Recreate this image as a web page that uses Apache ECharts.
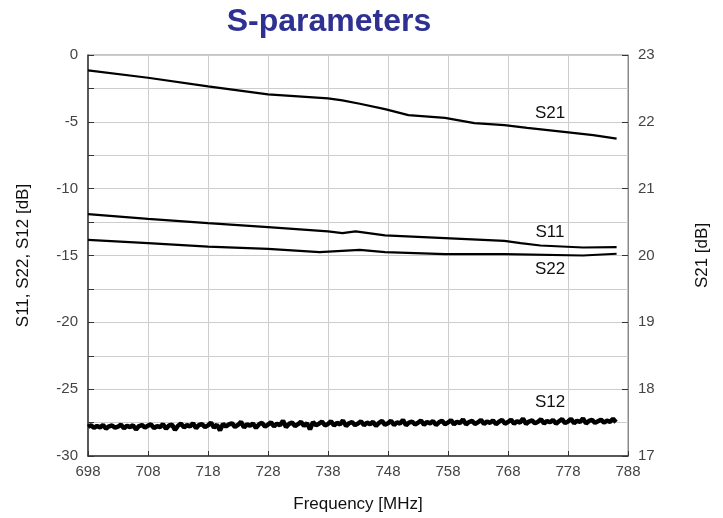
<!DOCTYPE html>
<html>
<head>
<meta charset="utf-8">
<script src="https://cdn.jsdelivr.net/npm/echarts@6/dist/echarts.min.js"></script>
<style>html,body{margin:0;padding:0;background:#fff}#c{width:723px;height:518px}</style>
</head>
<body>
<div id="c"></div>
<script>
// Frequency tick labels (MHz)
const freqTicks = [698, 708, 718, 728, 738, 748, 758, 768, 778, 788];
// S21 (right axis, dB)
const s21Freq = [698, 708, 718, 728, 738, 740.4, 743.3, 747.5, 751.4, 757.5, 762.4, 767.4, 771.2, 777.3, 782.2, 786.1];
const s21Vals = [22.77, 22.66, 22.53, 22.41, 22.35, 22.32, 22.27, 22.19, 22.10, 22.06, 21.98, 21.95, 21.91, 21.85, 21.80, 21.75];
// S11 (left axis, dB)
const s11Freq = [698, 708, 718, 728, 738, 740.4, 742.6, 747.5, 757.5, 767.4, 770.1, 773.4, 780.5, 786.1];
const s11Vals = [-11.91, -12.26, -12.58, -12.88, -13.20, -13.33, -13.20, -13.50, -13.70, -13.90, -14.07, -14.25, -14.40, -14.38];
// S22 (left axis, dB)
const s22Freq = [698, 708, 718, 728, 736.6, 743.3, 747.5, 757.5, 767.4, 780.5, 786.1];
const s22Vals = [-13.83, -14.08, -14.33, -14.50, -14.75, -14.58, -14.75, -14.90, -14.90, -15.00, -14.87];
// S12 (left axis, dB), sampled every 0.5 MHz from 698
const s12Start = 698, s12Step = 0.5;
const s12Vals = [
 -27.82,-27.70,-27.90,-27.75,-27.86,-27.68,-27.95,-27.78,-27.72,-27.88,
 -27.80,-27.66,-27.93,-27.74,-27.84,-27.70,-28.02,-27.76,-27.69,-27.87,
 -27.73,-27.64,-27.90,-27.77,-27.83,-27.62,-27.96,-27.71,-27.66,-28.05,
 -27.74,-27.58,-27.86,-27.69,-27.80,-27.55,-27.92,-27.68,-27.62,-27.84,
 -27.71,-27.50,-27.88,-27.66,-28.08,-27.60,-27.79,-27.64,-27.55,-27.83,
 -27.68,-27.45,-27.86,-27.62,-27.74,-27.57,-27.90,-27.63,-27.52,-27.80,
 -27.65,-27.48,-27.78,-27.58,-27.70,-27.36,-27.84,-27.60,-27.50,-27.76,
 -27.62,-27.44,-27.74,-27.55,-28.00,-27.46,-27.70,-27.58,-27.42,-27.72,
 -27.60,-27.40,-27.72,-27.52,-27.64,-27.34,-27.76,-27.55,-27.46,-27.69,
 -27.57,-27.40,-27.70,-27.50,-27.62,-27.44,-27.74,-27.52,-27.38,-27.66,
 -27.55,-27.36,-27.68,-27.48,-27.58,-27.30,-27.70,-27.50,-27.42,-27.64,
 -27.52,-27.34,-27.66,-27.46,-27.56,-27.38,-27.68,-27.48,-27.36,-27.62,
 -27.50,-27.32,-27.63,-27.44,-27.54,-27.26,-27.64,-27.46,-27.38,-27.60,
 -27.48,-27.30,-27.61,-27.42,-27.52,-27.34,-27.62,-27.44,-27.30,-27.58,
 -27.46,-27.28,-27.58,-27.40,-27.50,-27.20,-27.60,-27.42,-27.34,-27.56,
 -27.44,-27.26,-27.57,-27.38,-27.48,-27.30,-27.58,-27.40,-27.24,-27.54,
 -27.42,-27.22,-27.55,-27.36,-27.46,-27.18,-27.56,-27.38,-27.30,-27.52,
 -27.40,-27.28,-27.50,-27.36,-27.44,-27.22,-27.48
];
// Curve labels: [text, freq, value, axis]
const curveLabels = [
  ['S21', 775, 22.13, 1],
  ['S11', 775, -13.3, 0],
  ['S22', 775, -16.05, 0],
  ['S12', 775, -26.0, 0]
];

const zip = (xs, ys) => xs.map((x, i) => [x, ys[i]]);
const s12Data = s12Vals.map((v, i) => [s12Start + i * s12Step, v]);

const lineBase = {type: 'line', showSymbol: false, symbol: 'none', smooth: false,
  lineStyle: {color: '#000', width: 2.2}, silent: true, animation: false};

function labelPoint(l) {
  return {coord: [l[1], l[2]], symbol: 'circle', symbolSize: 1, itemStyle: {color: 'rgba(0,0,0,0)'},
    label: {show: true, formatter: l[0], position: 'inside',
    color: '#111', fontSize: 17, fontFamily: 'Liberation Sans, Arial, sans-serif'}};
}

const chart = echarts.init(document.getElementById('c'), null, {renderer: 'canvas'});
chart.setOption({
  animation: false,
  backgroundColor: '#fff',
  title: {text: 'S-parameters', left: 324, top: 1, textAlign: 'center',
    textStyle: {color: '#2e3192', fontSize: 32, fontWeight: 'bold', fontFamily: 'Liberation Sans, Arial, sans-serif'}},
  grid: {left: 88, right: 95, top: 55, bottom: 62, show: true, borderColor: '#888', borderWidth: 1, containLabel: false},
  xAxis: {type: 'value', min: 698, max: 788, interval: 10,
    name: 'Frequency [MHz]', nameLocation: 'middle', nameGap: 40,
    nameTextStyle: {color: '#111', fontSize: 17, fontFamily: 'Liberation Sans, Arial, sans-serif'},
    axisLine: {show: true, onZero: false, lineStyle: {color: '#333', width: 1.5}},
    axisTick: {show: true, inside: true, length: 5, lineStyle: {color: '#333'}},
    axisLabel: {color: '#444', fontSize: 15, margin: 8, fontFamily: 'Liberation Sans Narrow, Liberation Sans, Arial, sans-serif',
      formatter: v => String(v)},
    splitLine: {show: true, lineStyle: {color: '#cdcdcd', width: 1}}},
  yAxis: [
    {type: 'value', min: -30, max: 0, interval: 2.5, position: 'left',
      name: 'S11, S22, S12 [dB]', nameLocation: 'middle', nameGap: 56, nameRotate: 90,
      nameTextStyle: {color: '#111', fontSize: 17, fontFamily: 'Liberation Sans, Arial, sans-serif'},
      axisLine: {show: true, onZero: false, lineStyle: {color: '#333', width: 1.5}},
      axisTick: {show: true, inside: true, length: 6, lineStyle: {color: '#333'}},
      axisLabel: {color: '#444', fontSize: 15, margin: 10, fontFamily: 'Liberation Sans Narrow, Liberation Sans, Arial, sans-serif',
        formatter: v => (Math.abs(v % 5) < 1e-9 ? String(v) : '')},
      splitLine: {show: true, lineStyle: {color: '#cdcdcd', width: 1}}},
    {type: 'value', min: 17, max: 23, interval: 1, position: 'right',
      name: 'S21 [dB]', nameLocation: 'middle', nameGap: 66, nameRotate: 90,
      nameTextStyle: {color: '#111', fontSize: 17, fontFamily: 'Liberation Sans, Arial, sans-serif'},
      axisLine: {show: true, onZero: false, lineStyle: {color: '#888', width: 1}},
      axisTick: {show: true, inside: true, length: 6, lineStyle: {color: '#333'}},
      axisLabel: {color: '#444', fontSize: 15, margin: 10, fontFamily: 'Liberation Sans Narrow, Liberation Sans, Arial, sans-serif'},
      splitLine: {show: false}}
  ],
  series: [
    Object.assign({}, lineBase, {name: 'S21', yAxisIndex: 1, data: zip(s21Freq, s21Vals),
      markPoint: {silent: true, data: [labelPoint(curveLabels[0])]}}),
    Object.assign({}, lineBase, {name: 'S11', yAxisIndex: 0, data: zip(s11Freq, s11Vals),
      markPoint: {silent: true, data: [labelPoint(curveLabels[1])]}}),
    Object.assign({}, lineBase, {name: 'S22', yAxisIndex: 0, data: zip(s22Freq, s22Vals),
      markPoint: {silent: true, data: [labelPoint(curveLabels[2])]}}),
    Object.assign({}, lineBase, {name: 'S12', yAxisIndex: 0, data: s12Data, lineStyle: {color: '#000', width: 4.5},
      markPoint: {silent: true, data: [labelPoint(curveLabels[3])]}})
  ]
});
</script>
</body>
</html>
